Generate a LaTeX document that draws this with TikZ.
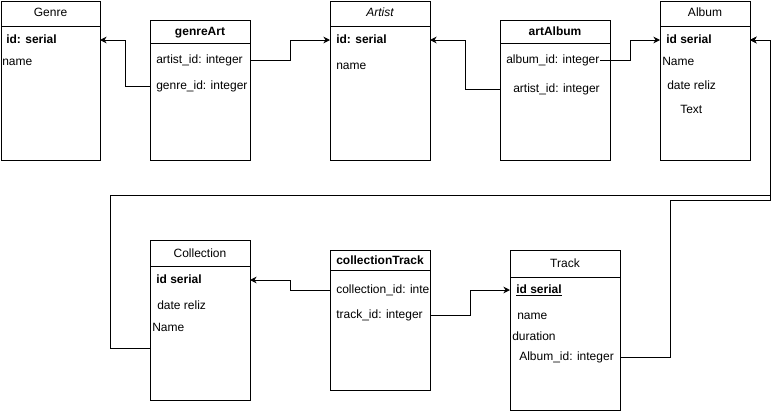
\documentclass[tikz,border=0pt]{standalone}
\usepackage{fontspec}
\setmainfont{Liberation Sans}
\usepackage{tikz}
\usetikzlibrary{arrows.meta,calc,positioning}

\begin{document}
\begin{tikzpicture}[x=0.75pt,y=-0.75pt,
  tbl/.style={draw,line width=0.75pt,inner sep=0pt,outer sep=0pt},
  fld/.style={anchor=west,inner sep=0pt,font=\fontsize{9}{10}\selectfont,text height=6.6pt,text depth=1.9pt},
  ttl/.style={inner sep=0pt,font=\fontsize{9}{10}\selectfont,text height=6.6pt,text depth=1.9pt},
  fk/.style={line width=0.75pt,-{Stealth[length=5pt,width=5pt]}}]
  \useasboundingbox (0,0) rectangle (779,411);
  % top row
  \node[tbl,minimum width=74.25pt,minimum height=119.25pt] (genre) at (50.5,80.5) {};
  \node[tbl,minimum width=75pt,minimum height=105pt] (genreArt) at (200,90) {};
  \node[tbl,minimum width=75pt,minimum height=119.25pt] (artist) at (380,80.5) {};
  \node[tbl,minimum width=82.5pt,minimum height=105pt] (artAlbum) at (555,90) {};
  \node[tbl,minimum width=67.5pt,minimum height=119.25pt] (album) at (705,80.5) {};
  \draw[line width=0.75pt] (genre.west |- 0,26) -- (genre.east |- 0,26);
  \draw[line width=0.75pt] (genreArt.west |- 0,43) -- (genreArt.east |- 0,43);
  \draw[line width=0.75pt] (artist.west |- 0,26) -- (artist.east |- 0,26);
  \draw[line width=0.75pt] (artAlbum.west |- 0,43) -- (artAlbum.east |- 0,43);
  \draw[line width=0.75pt] (album.west |- 0,26) -- (album.east |- 0,26);
  \node[ttl] (genreT) at (50.5,13) {Genre};
  \node[ttl] (genreArtT) at (200,32) {\bfseries genreArt};
  \node[ttl] (artistT) at (380,13) {\itshape Artist};
  \node[ttl] (artAlbumT) at (555,32) {\bfseries artAlbum};
  \node[ttl] (albumT) at (705,13) {Album};
  \node[fld] (gId) at (6,40) {\bfseries id: serial};
  \node[fld] (gName) at (2,62) {name};
  \node[fld] (gaArtist) at (156,60) {artist\_id: integer};
  \node[fld] (gaGenre) at (156,86) {genre\_id: integer};
  \node[fld] (arId) at (336,40) {\bfseries id: serial};
  \node[fld] (arName) at (336,66) {name};
  \node[fld] (aaAlbum) at (506,60) {album\_id: integer};
  \node[fld] (aaArtist) at (513,89) {artist\_id: integer};
  \node[fld] (alId) at (666,40) {\bfseries id serial};
  \node[fld] (alName) at (662,62) {Name};
  \node[fld] (alDate) at (667,86) {date reliz};
  \node[fld] (alText) at (680,110) {Text};
  % bottom row
  \node[tbl,minimum width=75pt,minimum height=120pt] (collection) at (200,320) {};
  \node[tbl,minimum width=75pt,minimum height=105pt] (collectionTrack) at (380,320) {};
  \node[tbl,minimum width=82.5pt,minimum height=120pt] (track) at (565,330) {};
  \draw[line width=0.75pt] (collection.west |- 0,266) -- (collection.east |- 0,266);
  \draw[line width=0.75pt] (collectionTrack.west |- 0,270) -- (collectionTrack.east |- 0,270);
  \draw[line width=0.75pt] (track.west |- 0,277) -- (track.east |- 0,277);
  \node[ttl] (collectionT) at (200,254) {Collection};
  \node[ttl] (collectionTrackT) at (380,261) {\bfseries collectionTrack};
  \node[ttl] (trackT) at (565,264) {Track};
  \node[fld] (coId) at (156,280) {\bfseries id serial};
  \node[fld] (coDate) at (157,306) {date reliz};
  \node[fld] (coName) at (152,328) {Name};
  \node[fld] (ctColl) at (336,290) {collection\_id: inte};
  \node[fld] (ctTrack) at (336,315) {track\_id: integer};
  \node[fld] (trId) at (516,290) {\underline{\bfseries id serial}};
  \node[fld] (trName) at (517,316) {name};
  \node[fld] (trDur) at (512,337) {duration};
  \node[fld] (trAlbum) at (519,357) {Album\_id: integer};
  \coordinate (bendA) at (770,200);
  \coordinate (bendB) at (770,195);
  % links
  \draw[fk] (genreArt.west |- gaGenre) -- ++(-25,0) |- (genre.east |- gId);
  \draw[fk] (genreArt.east |- gaArtist) -- ++(40,0) |- (artist.west |- arId);
  \draw[fk] (artAlbum.west |- aaArtist) -- ++(-35,0) |- (artist.east |- arId);
  \draw[fk] ([xshift=-7.5pt]artAlbum.east |- aaAlbum) -- ++(30,0) |- (album.west |- alId);
  \draw[fk] (track.east |- trAlbum) -- ++(50,0) |- (bendA) |- (album.east |- alId);
  \draw[fk] (collection.west |- 0,348) -- ++(-40,0) |- (bendB) |- (album.east |- alId);
  \draw[fk] (collectionTrack.west |- ctColl) -- ++(-40,0) |- (collection.east |- coId);
  \draw[fk] (collectionTrack.east |- ctTrack) -- ++(40,0) |- (track.west |- trId);
\end{tikzpicture}
\end{document}
